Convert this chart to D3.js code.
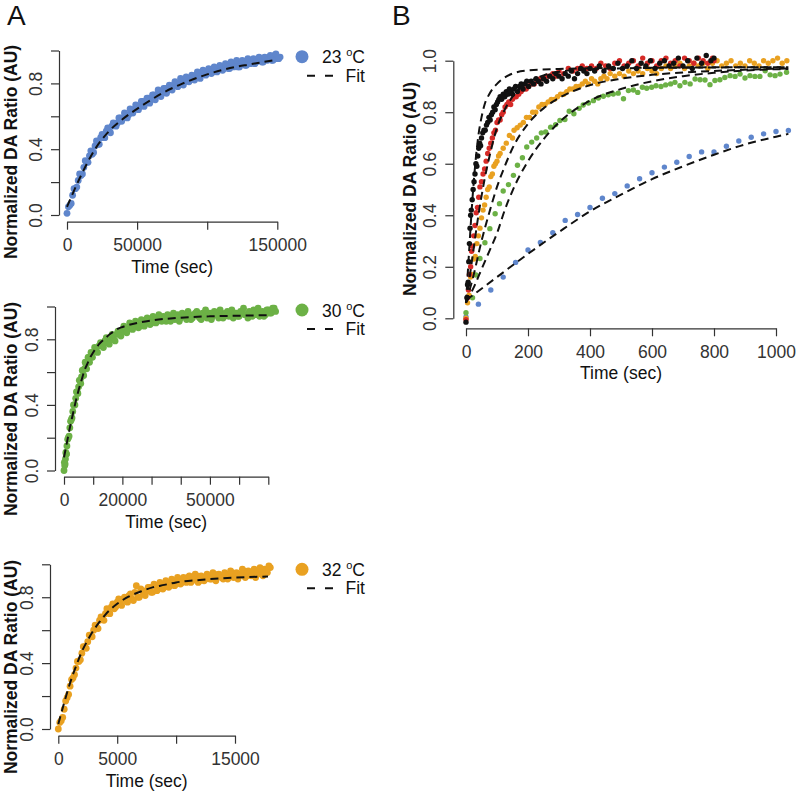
<!DOCTYPE html>
<html>
<head>
<meta charset="utf-8">
<script src="https://cdn.jsdelivr.net/npm/d3@7"></script>
<style>
  body { margin: 0; background: #fff; }
  svg { display: block; }
  text { font-family: 'Liberation Sans', Arial, Helvetica, sans-serif; }
</style>
</head>
<body>
<div id="chart"></div>
<script>
// ---- panel A, 23 C (two interleaved reads of the same band) ----
const t23 = [0,2000,4000,6000,8000,10000,12000,14000,16000,18000,20000,22000,24000,26000,28000,30000,32000,34000,36000,38000,40000,42000,44000,46000,48000,50000,52000,54000,56000,58000,60000,62000,64000,66000,68000,70000,72000,74000,76000,78000,80000,82000,84000,86000,88000,90000,92000,94000,96000,98000,100000,102000,104000,106000,108000,110000,112000,114000,116000,118000,120000,122000,124000,126000,128000,130000,132000,134000,136000,138000,140000,142000,144000,146000,148000,150000,152000];
const v23 = [0.01,0.06,0.12,0.16,0.21,0.24,0.29,0.32,0.36,0.37,0.42,0.43,0.47,0.47,0.51,0.51,0.54,0.55,0.56,0.59,0.59,0.61,0.61,0.64,0.64,0.66,0.66,0.69,0.68,0.71,0.70,0.73,0.73,0.75,0.74,0.77,0.76,0.78,0.79,0.80,0.79,0.82,0.81,0.83,0.82,0.84,0.85,0.84,0.86,0.86,0.87,0.88,0.87,0.89,0.88,0.90,0.89,0.91,0.89,0.91,0.92,0.90,0.92,0.93,0.91,0.93,0.94,0.92,0.94,0.95,0.93,0.95,0.96,0.94,0.97,0.95,0.96];
const t23b = [1000,3000,5000,7000,9000,11000,13000,15000,17000,19000,21000,23000,25000,27000,29000,31000,33000,35000,37000,39000,41000,43000,45000,47000,49000,51000,53000,55000,57000,59000,61000,63000,65000,67000,69000,71000,73000,75000,77000,79000,81000,83000,85000,87000,89000,91000,93000,95000,97000,99000,101000,103000,105000,107000,109000,111000,113000,115000,117000,119000,121000,123000,125000,127000,129000,131000,133000,135000,137000,139000,141000,143000,145000,147000,149000,151000];
const v23b = [0.05,0.07,0.16,0.17,0.25,0.25,0.33,0.32,0.39,0.38,0.45,0.43,0.49,0.47,0.53,0.50,0.56,0.54,0.59,0.57,0.62,0.59,0.645,0.62,0.67,0.64,0.69,0.66,0.71,0.68,0.73,0.70,0.76,0.72,0.77,0.74,0.79,0.76,0.81,0.78,0.83,0.79,0.84,0.81,0.85,0.82,0.87,0.83,0.88,0.85,0.89,0.86,0.90,0.87,0.91,0.88,0.92,0.89,0.93,0.90,0.94,0.90,0.94,0.91,0.95,0.92,0.95,0.93,0.96,0.93,0.96,0.94,0.97,0.94,0.98,0.95];
const fit23 = [[0,0.05],[10000,0.24],[20000,0.4],[30000,0.51],[40000,0.585],[50000,0.645],[60000,0.7],[70000,0.75],[80000,0.79],[90000,0.825],[100000,0.855],[110000,0.88],[120000,0.9],[130000,0.915],[140000,0.93],[150000,0.945]];

// ---- panel A, 30 C ----
const t30 = [0,250,500,750,1000,1500,2000,2500,3000,3500,4000,4500,5000,5500,6000,6500,7000,7500,8000,8500,9000,9500,10000,11000,12000,13000,14000,15000,16000,17000,18000,19000,20000,21000,22000,23000,24000,25000,26000,27000,28000,29000,30000,31000,32000,33000,34000,35000,36000,37000,38000,39000,40000,41000,42000,43000,44000,45000,46000,47000,48000,49000,50000,51000,52000,53000,54000,55000,56000,57000,58000,59000,60000,61000,62000,63000,64000,65000,66000,67000,68000,69000,70000,71000,72000];
const v30 = [0.00,0.03,0.07,0.10,0.15,0.20,0.26,0.31,0.36,0.40,0.44,0.48,0.51,0.55,0.57,0.61,0.62,0.65,0.66,0.69,0.69,0.71,0.72,0.73,0.76,0.76,0.79,0.78,0.81,0.80,0.83,0.84,0.85,0.87,0.86,0.89,0.88,0.90,0.88,0.91,0.90,0.92,0.90,0.93,0.91,0.92,0.94,0.91,0.93,0.94,0.92,0.95,0.93,0.94,0.92,0.95,0.93,0.96,0.94,0.92,0.95,0.93,0.96,0.94,0.95,0.93,0.96,0.94,0.97,0.95,0.93,0.96,0.94,0.97,0.95,0.93,0.96,0.98,0.95,0.94,0.97,0.95,0.98,0.96,0.99];
const t30b = [125,375,625,875,1250,1750,2250,2750,3250,3750,4250,4750,5250,5750,6250,6750,7250,7750,8250,8750,9250,9750,10500,11500,12500,13500,14500,15500,16500,17500,18500,19500,20500,21500,22500,23500,24500,25500,26500,27500,28500,29500,30500,31500,32500,33500,34500,35500,36500,37500,38500,39500,40500,41500,42500,43500,44500,45500,46500,47500,48500,49500,50500,51500,52500,53500,54500,55500,56500,57500,58500,59500,60500,61500,62500,63500,64500,65500,66500,67500,68500,69500,70500,71500,72500];
const v30b = [0.05,0.04,0.11,0.10,0.19,0.21,0.30,0.32,0.40,0.40,0.48,0.47,0.55,0.53,0.61,0.58,0.66,0.62,0.69,0.66,0.72,0.69,0.75,0.72,0.78,0.75,0.81,0.77,0.83,0.79,0.85,0.82,0.88,0.84,0.90,0.86,0.91,0.87,0.92,0.88,0.93,0.89,0.94,0.90,0.95,0.91,0.93,0.95,0.91,0.96,0.93,0.91,0.96,0.94,0.97,0.92,0.95,0.97,0.93,0.96,0.98,0.94,0.92,0.97,0.95,0.98,0.93,0.96,0.94,0.98,0.96,0.94,0.97,0.99,0.95,0.97,0.94,0.97,0.99,0.96,0.94,0.98,0.96,0.99,0.97];
const fit30 = [[0,0.08],[1000,0.17],[2000,0.26],[3000,0.34],[4000,0.42],[5000,0.49],[6000,0.55],[7000,0.61],[8000,0.65],[9000,0.69],[10000,0.72],[12000,0.77],[14000,0.805],[16000,0.835],[18000,0.86],[20000,0.875],[25000,0.9],[30000,0.915],[40000,0.932],[50000,0.94],[60000,0.944],[70000,0.947]];

// ---- panel A, 32 C ----
const t32 = [0,250,500,750,1000,1250,1500,1750,2000,2250,2500,2750,3000,3250,3500,3750,4000,4250,4500,4750,5000,5250,5500,5750,6000,6250,6500,6750,7000,7250,7500,7750,8000,8250,8500,8750,9000,9250,9500,9750,10000,10250,10500,10750,11000,11250,11500,11750,12000,12250,12500,12750,13000,13250,13500,13750,14000,14250,14500,14750,15000,15250,15500,15750,16000,16250,16500,16750,17000,17250,17500,17750,18000];
const v32 = [0.00,0.05,0.12,0.19,0.26,0.31,0.37,0.41,0.46,0.50,0.53,0.57,0.60,0.62,0.66,0.67,0.70,0.71,0.74,0.73,0.77,0.76,0.79,0.78,0.81,0.79,0.83,0.80,0.85,0.82,0.84,0.86,0.83,0.87,0.85,0.88,0.86,0.89,0.87,0.90,0.88,0.91,0.89,0.90,0.92,0.89,0.91,0.93,0.90,0.92,0.91,0.93,0.91,0.94,0.92,0.93,0.91,0.94,0.92,0.95,0.93,0.91,0.94,0.96,0.93,0.95,0.94,0.92,0.96,0.94,0.97,0.95,0.98];
const t32b = [125,375,625,875,1125,1375,1625,1875,2125,2375,2625,2875,3125,3375,3625,3875,4125,4375,4625,4875,5125,5375,5625,5875,6125,6375,6625,6875,7125,7375,7625,7875,8125,8375,8625,8875,9125,9375,9625,9875,10125,10375,10625,10875,11125,11375,11625,11875,12125,12375,12625,12875,13125,13375,13625,13875,14125,14375,14625,14875,15125,15375,15625,15875,16125,16375,16625,16875,17125,17375,17625,17875];
const v32b = [0.04,0.07,0.17,0.21,0.30,0.33,0.41,0.42,0.50,0.49,0.57,0.56,0.63,0.61,0.68,0.66,0.73,0.70,0.76,0.74,0.79,0.75,0.80,0.77,0.82,0.78,0.87,0.80,0.84,0.81,0.86,0.83,0.88,0.84,0.89,0.85,0.90,0.86,0.91,0.87,0.92,0.88,0.92,0.89,0.93,0.90,0.94,0.89,0.93,0.90,0.94,0.91,0.95,0.90,0.94,0.92,0.95,0.91,0.96,0.92,0.95,0.93,0.97,0.92,0.96,0.93,0.97,0.94,0.98,0.93,0.96,0.99];
const fit32 = [[0,0.03],[500,0.16],[1000,0.28],[1500,0.38],[2000,0.47],[2500,0.54],[3000,0.6],[3500,0.65],[4000,0.695],[5000,0.76],[6000,0.805],[7000,0.835],[8000,0.86],[9000,0.875],[10000,0.89],[12000,0.905],[14000,0.915],[16000,0.922],[17800,0.926]];

// ---- panel B, [time, ratio] ----
const bBlue = [[0,0.005],[40,0.055],[80,0.11],[120,0.16],[160,0.217],[200,0.265],[240,0.294],[280,0.332],[320,0.38],[360,0.403],[400,0.43],[440,0.466],[480,0.484],[520,0.514],[560,0.542],[600,0.565],[640,0.587],[680,0.606],[720,0.628],[760,0.646],[800,0.646],[840,0.668],[880,0.688],[920,0.703],[960,0.716],[1000,0.725],[1040,0.729]];
const bGreen = [[0,0.022],[21,0.08],[32,0.168],[45,0.232],[61,0.293],[77,0.348],[94,0.406],[108,0.445],[120,0.494],[137,0.519],[153,0.555],[166,0.594],[182,0.623],[196,0.665],[212,0.684],[228,0.70],[243,0.72],[257,0.723],[273,0.742],[289,0.752],[303,0.768],[319,0.772],[333,0.804],[348,0.794],[365,0.815],[378,0.828],[395,0.836],[411,0.845],[427,0.855],[443,0.862],[459,0.868],[475,0.871],[491,0.874],[508,0.852],[524,0.884],[540,0.886],[554,0.877],[569,0.897],[583,0.893],[599,0.897],[613,0.903],[629,0.9],[644,0.906],[660,0.91],[674,0.916],[690,0.903],[706,0.916],[723,0.91],[739,0.929],[755,0.926],[771,0.925],[787,0.907],[803,0.923],[819,0.926],[835,0.935],[852,0.942],[868,0.939],[884,0.948],[900,0.933],[916,0.942],[932,0.939],[948,0.939],[965,0.961],[981,0.945],[997,0.942],[1013,0.948],[1034,0.955]];
const bOrange = [[0,0.0],[5,0.06],[10,0.09],[15,0.16],[20,0.17],[25,0.23],[30,0.24],[35,0.29],[40,0.32],[45,0.35],[50,0.39],[55,0.42],[60,0.44],[65,0.47],[70,0.50],[75,0.51],[80,0.55],[85,0.56],[90,0.59],[95,0.60],[100,0.61],[105,0.63],[110,0.64],[120,0.66],[130,0.68],[140,0.71],[150,0.70],[155,0.73],[165,0.74],[175,0.75],[185,0.76],[195,0.78],[205,0.78],[215,0.80],[225,0.80],[235,0.82],[245,0.83],[255,0.83],[265,0.84],[275,0.85],[285,0.85],[295,0.86],[305,0.87],[315,0.87],[325,0.88],[335,0.89],[345,0.89],[355,0.90],[365,0.90],[375,0.91],[385,0.92],[395,0.91],[405,0.93],[415,0.92],[425,0.91],[435,0.93],[445,0.94],[455,0.93],[465,0.95],[480,0.94],[495,0.95],[510,0.94],[525,0.96],[540,0.95],[555,0.96],[570,0.95],[585,0.97],[600,0.96],[615,0.95],[630,0.97],[645,0.98],[660,0.97],[675,0.98],[690,0.99],[705,0.97],[720,0.98],[735,0.99],[750,0.98],[765,0.99],[780,0.97],[795,0.99],[810,1.0],[825,0.98],[840,0.99],[855,1.0],[870,0.98],[885,0.99],[900,0.98],[915,1.0],[930,0.99],[945,0.98],[960,1.0],[975,0.99],[990,1.0],[1005,1.01],[1020,0.99],[1035,1.0]];
const bRed = [[0,-0.005],[5,0.08],[8,0.11],[11,0.17],[15,0.2],[18,0.26],[21,0.28],[25,0.32],[29,0.36],[33,0.41],[37,0.43],[41,0.47],[45,0.51],[50,0.53],[55,0.56],[60,0.58],[65,0.61],[70,0.64],[75,0.66],[80,0.68],[85,0.70],[90,0.72],[95,0.73],[100,0.76],[105,0.77],[110,0.77],[115,0.79],[120,0.80],[126,0.82],[132,0.83],[138,0.84],[144,0.83],[150,0.85],[156,0.86],[162,0.86],[170,0.87],[178,0.88],[186,0.89],[194,0.89],[202,0.90],[210,0.91],[220,0.91],[230,0.92],[240,0.93],[250,0.93],[260,0.94],[270,0.94],[280,0.95],[290,0.94],[300,0.96],[315,0.95],[330,0.97],[345,0.96],[360,0.97],[375,0.98],[390,0.97],[405,0.98],[420,0.97],[435,0.99],[450,0.98],[465,0.97],[480,0.99],[495,1.0],[510,0.98],[525,0.99],[540,1.0],[555,0.98],[570,1.01],[585,0.99],[600,1.0],[615,0.98],[630,1.0],[645,1.01],[660,0.99],[675,1.0],[690,0.98],[705,1.01],[720,1.0],[735,0.99],[750,1.01],[765,1.0],[780,0.99],[795,1.01],[800,1.0]];
const bBlack = [[0,-0.015],[3,0.08],[5,0.13],[7,0.14],[9,0.22],[11,0.29],[13,0.35],[15,0.40],[17,0.42],[20,0.46],[23,0.50],[26,0.53],[29,0.56],[32,0.60],[35,0.59],[38,0.63],[41,0.66],[44,0.68],[47,0.67],[50,0.70],[54,0.72],[58,0.73],[62,0.73],[66,0.75],[70,0.76],[74,0.78],[78,0.77],[82,0.79],[86,0.80],[90,0.82],[94,0.81],[98,0.83],[102,0.84],[106,0.85],[110,0.86],[115,0.85],[120,0.87],[125,0.86],[130,0.88],[135,0.87],[140,0.89],[145,0.88],[150,0.87],[155,0.89],[160,0.90],[166,0.88],[172,0.90],[178,0.91],[184,0.89],[190,0.91],[196,0.92],[202,0.90],[210,0.92],[218,0.91],[226,0.93],[234,0.92],[242,0.91],[250,0.93],[260,0.92],[270,0.94],[280,0.93],[290,0.95],[300,0.94],[310,0.93],[320,0.95],[330,0.94],[340,0.96],[350,0.93],[360,0.95],[370,0.97],[380,0.96],[390,0.95],[400,0.97],[415,0.96],[430,0.98],[445,0.96],[460,0.98],[475,0.97],[490,0.99],[505,0.97],[520,0.98],[535,1.0],[550,0.97],[565,0.99],[580,0.98],[595,1.0],[610,0.97],[625,0.99],[640,1.0],[655,0.98],[670,0.99],[685,1.01],[700,0.98],[715,1.0],[730,0.97],[745,1.01],[760,0.99],[775,1.02],[790,1.0],[800,1.01]];

const fitBBlue = [[0,0.07],[100,0.16],[200,0.25],[300,0.335],[400,0.415],[500,0.48],[600,0.54],[700,0.59],[800,0.635],[900,0.675],[1000,0.705],[1040,0.716]];
const fitBGreen = [[0,0.06],[25,0.12],[50,0.19],[75,0.26],[100,0.33],[125,0.42],[150,0.495],[200,0.61],[250,0.695],[300,0.76],[400,0.845],[500,0.89],[600,0.92],[700,0.94],[800,0.953],[900,0.962],[1040,0.968]];
const fitBOrange = [[0,0.06],[25,0.17],[50,0.3],[75,0.41],[100,0.51],[125,0.59],[150,0.66],[200,0.755],[250,0.815],[300,0.855],[400,0.905],[500,0.93],[600,0.945],[800,0.96],[1040,0.97]];
const fitBRed = [[0,0.06],[20,0.23],[40,0.4],[60,0.54],[80,0.65],[100,0.74],[125,0.81],[150,0.86],[200,0.915],[250,0.943],[300,0.957],[400,0.967],[600,0.972],[1040,0.975]];
const fitBBlack = [[0,0.06],[10,0.26],[20,0.45],[30,0.6],[40,0.71],[50,0.78],[60,0.83],[75,0.87],[100,0.91],[125,0.935],[150,0.95],[200,0.962],[300,0.968],[500,0.972],[1040,0.975]];

// ticks
const yTicksA = [0, 0.2, 0.4, 0.6, 0.8, 1.0];
const yLabelsA = [0, 0.4, 0.8];
const yTicksB = [0, 0.2, 0.4, 0.6, 0.8, 1.0];
const xTicks23 = [0, 50000, 100000, 150000], xLabels23 = [0, 50000, 150000];
const xTicks30 = [0, 10000, 20000, 30000, 40000, 50000, 60000, 70000], xLabels30 = [0, 20000, 50000];
const xTicks32 = [0, 5000, 10000, 15000], xLabels32 = [0, 5000, 15000];
const xTicksB = [0, 200, 400, 600, 800, 1000];

const colors = {blue: "#5f86cc", green: "#6cb146", orange: "#e9a121", red: "#d62a27", black: "#111111"};
const fs = 17.5;

const svg = d3.select("#chart").append("svg")
    .attr("width", 800)
    .attr("height", 796);

function drawAxes(x, y, o) {
    const xa = d3.axisBottom(x)
        .tickValues(o.xTicks)
        .tickSize(8)
        .tickSizeOuter(0)
        .tickPadding(9)
        .tickFormat(d => o.xLabels.includes(d) ? d : "");
    svg.append("g")
        .attr("transform", "translate(0," + o.axisY + ")")
        .call(xa)
        .attr("font-size", fs)
        .attr("color", "#333");

    const ya = d3.axisLeft(y)
        .tickValues(o.yTicks)
        .tickSize(8)
        .tickSizeOuter(0)
        .tickFormat(d => o.yLabels.includes(d) ? d3.format(".1f")(d) : "");
    const gy = svg.append("g")
        .attr("transform", "translate(" + o.axisX + ",0)")
        .call(ya)
        .attr("font-size", fs)
        .attr("color", "#333");
    gy.selectAll(".tick text")
        .attr("x", 0)
        .attr("dy", "0.35em")
        .attr("text-anchor", "middle")
        .attr("transform", "translate(-23,0) rotate(-90)");
    svg.selectAll(".domain, .tick line").attr("stroke-width", 1.2);

    svg.append("text")
        .attr("transform", "translate(" + o.titleX + "," + o.titleY + ") rotate(-90)")
        .attr("text-anchor", "middle")
        .attr("dy", "0.35em")
        .attr("font-size", fs)
        .attr("font-weight", "bold")
        .attr("fill", "#111")
        .text("Normalized DA Ratio (AU)");

    svg.append("text")
        .attr("x", (x.range()[0] + x.range()[1]) / 2)
        .attr("y", o.axisY + 51)
        .attr("text-anchor", "middle")
        .attr("font-size", fs)
        .attr("fill", "#111")
        .text("Time (sec)");
}

const fitLine = (x, y) => d3.line()
    .x(d => x(d[0]))
    .y(d => y(d[1]))
    .curve(d3.curveMonotoneX);

function panelA(o) {
    const x = d3.scaleLinear().domain(o.xDom).range(o.xRange);
    const y = d3.scaleLinear().domain([0, 1]).range(o.yRange);

    o.sets.forEach(([ts, vs]) => {
        svg.append("g").selectAll("circle")
            .data(ts)
            .join("circle")
            .attr("cx", d => x(d))
            .attr("cy", (d, i) => y(vs[i]))
            .attr("r", 3.4)
            .attr("fill", o.color);
    });

    svg.append("path")
        .datum(o.fit)
        .attr("d", fitLine(x, y))
        .attr("fill", "none")
        .attr("stroke", "#111")
        .attr("stroke-width", 2)
        .attr("stroke-dasharray", "8,5");

    drawAxes(x, y, o);

    // legend
    const ly = o.legendY;
    svg.append("circle").attr("cx", 302).attr("cy", ly).attr("r", 6.5).attr("fill", o.color);
    const lt = svg.append("text")
        .attr("x", 365).attr("y", ly + 6.5)
        .attr("text-anchor", "end")
        .attr("font-size", fs)
        .attr("fill", "#111");
    lt.append("tspan").text(o.temp + " ");
    lt.append("tspan").attr("font-size", 11).attr("dy", -7).text("o");
    lt.append("tspan").attr("dy", 7).text("C");
    svg.append("line")
        .attr("x1", 307).attr("x2", 333)
        .attr("y1", ly + 19).attr("y2", ly + 19)
        .attr("stroke", "#111").attr("stroke-width", 2)
        .attr("stroke-dasharray", "8,10");
    svg.append("text")
        .attr("x", 365).attr("y", ly + 25)
        .attr("text-anchor", "end")
        .attr("font-size", fs)
        .attr("fill", "#111")
        .text("Fit");
}

panelA({sets: [[t23, v23], [t23b, v23b]], fit: fit23, color: colors.blue, temp: "23",
    xDom: [0, 150000], xRange: [67, 277.3], yRange: [215, 50.5],
    axisX: 59, axisY: 221.7, xTicks: xTicks23, xLabels: xLabels23,
    yTicks: yTicksA, yLabels: yLabelsA, titleX: 11, titleY: 152, legendY: 56.7});

panelA({sets: [[t30, v30], [t30b, v30b]], fit: fit30, color: colors.green, temp: "30",
    xDom: [0, 70000], xRange: [64, 268.3], yRange: [470.5, 306.5],
    axisX: 55, axisY: 476.7, xTicks: xTicks30, xLabels: xLabels30,
    yTicks: yTicksA, yLabels: yLabelsA, titleX: 11, titleY: 409, legendY: 310});

panelA({sets: [[t32, v32], [t32b, v32b]], fit: fit32, color: colors.orange, temp: "32",
    xDom: [0, 15000], xRange: [58.3, 235], yRange: [729, 564.3],
    axisX: 50, axisY: 735.7, xTicks: xTicks32, xLabels: xLabels32,
    yTicks: yTicksA, yLabels: yLabelsA, titleX: 11, titleY: 667, legendY: 569.3});

// ---- panel B ----
(function() {
    const x = d3.scaleLinear().domain([0, 1000]).range([466, 776]);
    const y = d3.scaleLinear().domain([0, 1]).range([318.3, 60.7]);

    const series = [
        {data: bBlue, color: colors.blue},
        {data: bGreen, color: colors.green},
        {data: bOrange, color: colors.orange},
        {data: bRed, color: colors.red},
        {data: bBlack, color: colors.black}
    ];
    series.forEach(s => {
        svg.append("g").selectAll("circle")
            .data(s.data)
            .join("circle")
            .attr("cx", d => x(d[0]))
            .attr("cy", d => y(d[1]))
            .attr("r", 2.7)
            .attr("fill", s.color);
    });

    [fitBBlue, fitBGreen, fitBOrange, fitBRed, fitBBlack].forEach(f => {
        svg.append("path")
            .datum(f)
            .attr("d", fitLine(x, y))
            .attr("fill", "none")
            .attr("stroke", "#111")
            .attr("stroke-width", 2)
            .attr("stroke-dasharray", "8,5");
    });

    drawAxes(x, y, {axisX: 453.3, axisY: 328.3, xTicks: xTicksB, xLabels: xTicksB,
        yTicks: yTicksB, yLabels: yTicksB, titleX: 410, titleY: 189});
})();

// panel letters
svg.append("text").attr("x", 7).attr("y", 25).attr("font-size", 28).attr("fill", "#111").text("A");
svg.append("text").attr("x", 392).attr("y", 25).attr("font-size", 28).attr("fill", "#111").text("B");
</script>
</body>
</html>
